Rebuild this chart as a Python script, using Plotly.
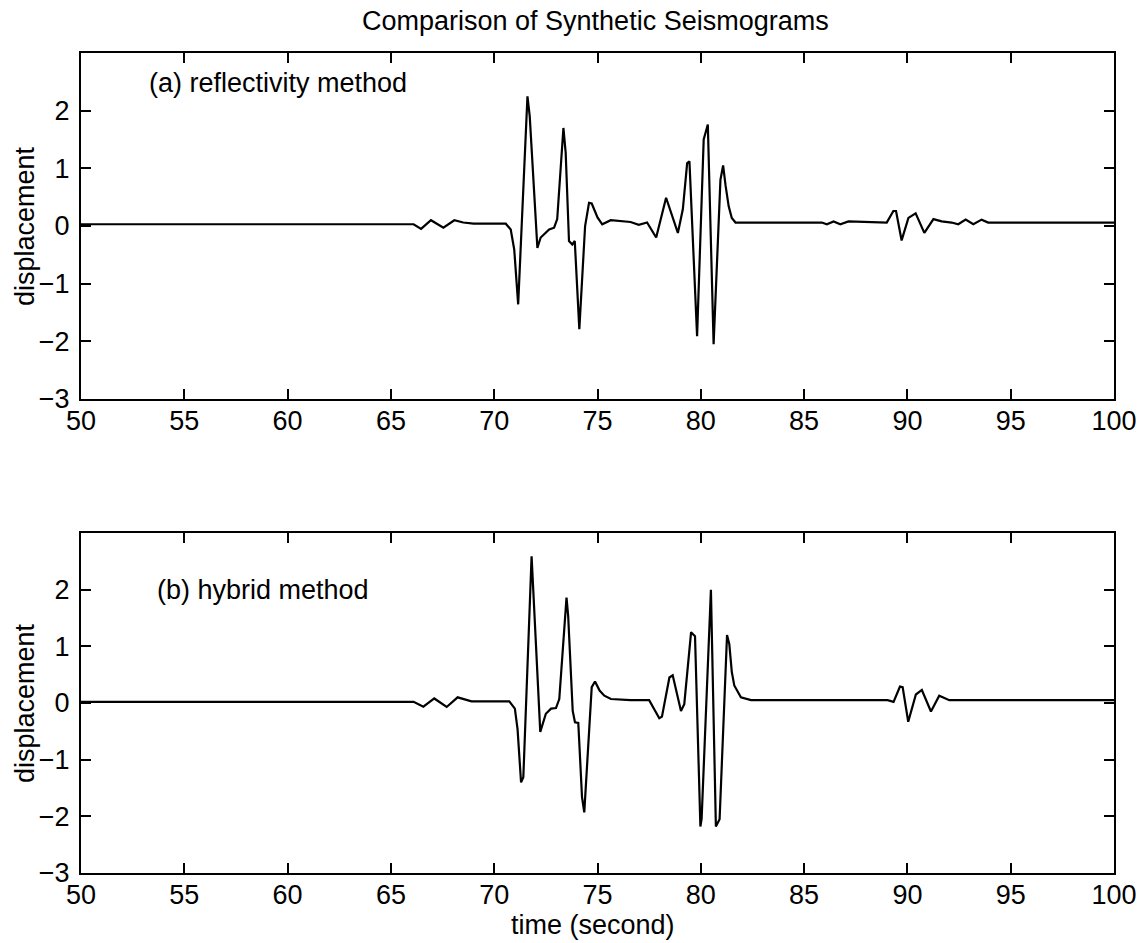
import plotly.graph_objects as go

# ---- data ----
time_a = [50, 66.1, 66.46, 66.94, 67.54, 68.07, 68.5, 69.0, 70.56, 70.8, 70.97, 71.16,
          71.61, 71.72, 72.09, 72.25, 72.66, 72.9, 73.05, 73.35, 73.46, 73.62, 73.78,
          73.9, 74.12, 74.4, 74.59, 74.72, 75.0, 75.23, 75.64, 76.6, 77.0, 77.4, 77.84,
          78.32, 78.89, 79.13, 79.34, 79.45, 79.82, 80.14, 80.34, 80.62, 80.95, 81.08,
          81.2, 81.35, 81.5, 81.68, 85.86, 86.1, 86.43, 86.75, 87.15, 89.0, 89.32, 89.45,
          89.72, 90.05, 90.4, 90.82, 91.26, 91.66, 92.14, 92.46, 92.82, 93.19, 93.59,
          93.91, 100]
disp_a = [0.03, 0.03, -0.05, 0.10, -0.03, 0.10, 0.06, 0.04, 0.04, -0.06, -0.41, -1.36,
          2.25, 1.90, -0.38, -0.20, -0.06, -0.03, 0.12, 1.70, 1.27, -0.26, -0.32,
          -0.26, -1.79, 0.00, 0.40, 0.39, 0.15, 0.03, 0.10, 0.07, 0.02, 0.06, -0.20,
          0.49, -0.12, 0.29, 1.09, 1.12, -1.91, 1.50, 1.76, -2.05, 0.80, 1.05,
          0.70, 0.34, 0.14, 0.06, 0.06, 0.03, 0.08, 0.03, 0.08, 0.06, 0.26, 0.26,
          -0.25, 0.14, 0.22, -0.12, 0.12, 0.08, 0.06, 0.03, 0.11, 0.03, 0.11,
          0.06, 0.06]

time_b = [50, 66.1, 66.57, 67.1, 67.7, 68.23, 68.9, 70.73, 71.0, 71.13, 71.3, 71.41,
          71.81, 72.23, 72.5, 72.75, 72.99, 73.15, 73.5, 73.58, 73.8, 73.91, 74.07,
          74.25, 74.36, 74.72, 74.88, 75.1, 75.33, 75.65, 76.6, 77.5, 77.99, 78.12,
          78.48, 78.64, 79.04, 79.2, 79.53, 79.72, 79.98, 80.04, 80.49, 80.73, 80.91,
          81.27, 81.38, 81.5, 81.62, 81.94, 82.43, 89.04, 89.33, 89.64, 89.77, 90.04,
          90.41, 90.7, 91.14, 91.54, 92.03, 100]
disp_b = [0.02, 0.02, -0.065, 0.08, -0.07, 0.10, 0.03, 0.03, -0.10, -0.46, -1.40, -1.31,
          2.59, -0.51, -0.19, -0.10, -0.09, 0.07, 1.86, 1.54, -0.14, -0.34, -0.35,
          -1.66, -1.93, 0.28, 0.38, 0.22, 0.13, 0.07, 0.05, 0.05, -0.27, -0.24,
          0.45, 0.49, -0.14, -0.02, 1.25, 1.18, -2.18, -2.04, 2.00, -2.18, -2.05,
          1.20, 1.04, 0.55, 0.31, 0.10, 0.05, 0.05, 0.02, 0.29, 0.28, -0.33,
          0.15, 0.23, -0.15, 0.13, 0.05, 0.05]

x_ticks = [50, 55, 60, 65, 70, 75, 80, 85, 90, 95, 100]
y_ticks = [-3, -2, -1, 0, 1, 2]

title_text = "Comparison of Synthetic Seismograms"
label_a = "(a) reflectivity method"
label_b = "(b) hybrid method"
x_title = "time (second)"
y_title = "displacement"

W, H = 1144, 943
FONT = "Liberation Sans, Arial, Helvetica, sans-serif"
FS = 27

def px_x(p):
    return p / W

def px_y(p):
    return 1 - p / H

fig = go.Figure()
fig.add_trace(go.Scatter(x=time_a, y=disp_a, mode="lines",
                         line=dict(color="black", width=2.2), xaxis="x", yaxis="y",
                         showlegend=False))
fig.add_trace(go.Scatter(x=time_b, y=disp_b, mode="lines",
                         line=dict(color="black", width=2.2), xaxis="x2", yaxis="y2",
                         showlegend=False))

xdom = [px_x(81), px_x(1114)]
axis_common = dict(showline=True, linecolor="black", linewidth=2, mirror="ticks",
                   ticks="inside", ticklen=10, tickwidth=1.5, tickcolor="black",
                   showgrid=False, zeroline=False, automargin=False,
                   tickfont=dict(family=FONT, size=FS, color="black"))

fig.update_layout(
    width=W, height=H,
    margin=dict(l=0, r=0, t=0, b=0),
    paper_bgcolor="white", plot_bgcolor="white",
    xaxis=dict(domain=xdom, range=[50, 100], tickvals=x_ticks, anchor="y",
               ticklabelstandoff=-3, **axis_common),
    yaxis=dict(domain=[px_y(399), px_y(53)], range=[-3, 3], tickvals=y_ticks,
               anchor="x", ticklabelstandoff=4, **axis_common),
    xaxis2=dict(domain=xdom, range=[50, 100], tickvals=x_ticks, anchor="y2",
                ticklabelstandoff=-3, **axis_common),
    yaxis2=dict(domain=[px_y(873), px_y(533)], range=[-3, 3], tickvals=y_ticks,
                anchor="x2", ticklabelstandoff=4, **axis_common),
    font=dict(family=FONT, size=FS, color="black"),
)

annots = [
    dict(text=title_text, x=px_x(595), y=px_y(21), xref="paper", yref="paper",
         xanchor="center", yanchor="middle", showarrow=False),
    dict(text=x_title, x=px_x(593), y=px_y(925), xref="paper", yref="paper",
         xanchor="center", yanchor="middle", showarrow=False),
    dict(text=y_title, x=px_x(25), y=px_y(226), xref="paper", yref="paper",
         xanchor="center", yanchor="middle", textangle=-90, showarrow=False),
    dict(text=y_title, x=px_x(25), y=px_y(703), xref="paper", yref="paper",
         xanchor="center", yanchor="middle", textangle=-90, showarrow=False),
    dict(text=label_a, x=53.19, y=2.48, xref="x", yref="y",
         xanchor="left", yanchor="middle", showarrow=False),
    dict(text=label_b, x=53.58, y=2.0, xref="x2", yref="y2",
         xanchor="left", yanchor="middle", showarrow=False),
]
for a in annots:
    a["font"] = dict(family=FONT, size=FS, color="black")
fig.update_layout(annotations=annots)

fig.write_html("out.html")
